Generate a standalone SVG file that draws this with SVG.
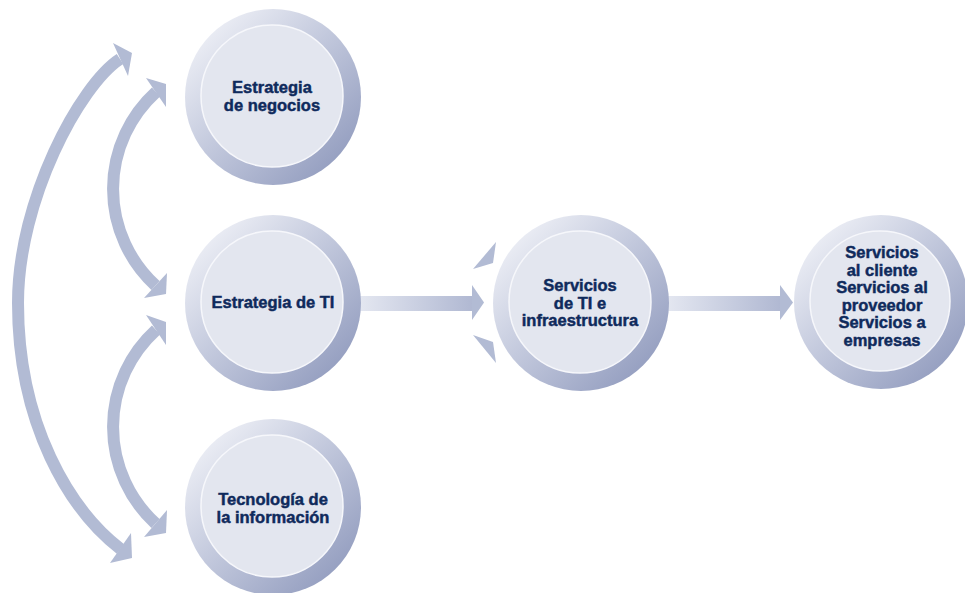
<svg xmlns="http://www.w3.org/2000/svg" width="965" height="593" viewBox="0 0 965 593">
  <style>
    .band { fill: none; stroke: #b2bbd4; stroke-width: 12; }
    .head { fill: #b2bbd4; }
    .ring { fill: url(#ringGrad); }
    .disc { fill: #e3e6ef; stroke: #f6f7fb; stroke-width: 1.5; }
    .lbl { font-family: "Liberation Sans", Arial, sans-serif; font-weight: bold; font-size: 16.5px; fill: #0f2a5c; stroke: #0f2a5c; stroke-width: 0.45; text-anchor: middle; }
  </style>
  <defs>
    <linearGradient id="ringGrad" x1="0.12" y1="0.12" x2="0.88" y2="0.9">
      <stop offset="0" stop-color="#eceef5"/>
      <stop offset="0.45" stop-color="#c3c9dd"/>
      <stop offset="1" stop-color="#939dbf"/>
    </linearGradient>
    <linearGradient id="shaftGrad" x1="0" y1="0" x2="1" y2="0">
      <stop offset="0" stop-color="#e6e9f2"/>
      <stop offset="1" stop-color="#b0b8d2"/>
    </linearGradient>
  </defs>

  <g id="connectors">
    <!-- outer arc -->
    <path class="band" d="M 120 59 C 80 85, 18 200, 18 303 C 18 425, 70 510, 120.5 549"/>
    <polygon class="head" points="113,43 132,53 128,76"/>
    <polygon class="head" points="110,563 132,558 131,533"/>
    <!-- inner upper arc -->
    <path class="band" d="M 156 92 A 131 131 0 0 0 155.5 285.5"/>
    <polygon class="head" points="146,78 166,84 166,107"/>
    <polygon class="head" points="144,298 166,294 167,273"/>
    <!-- inner lower arc -->
    <path class="band" d="M 156 330 A 131 131 0 0 0 155.5 523.5"/>
    <polygon class="head" points="146,315 166,322 166,345"/>
    <polygon class="head" points="144,537 166,533 167,510"/>
    <!-- horizontal arrow 1 -->
    <rect x="355" y="296" width="118" height="15" fill="url(#shaftGrad)"/>
    <polygon class="head" points="472,285 484,302.5 472,320"/>
    <polygon class="head" points="473,269 496,242 493,263"/>
    <polygon class="head" points="473,335 493,342 496,363"/>
    <!-- horizontal arrow 2 -->
    <rect x="662" y="296" width="119" height="15" fill="url(#shaftGrad)"/>
    <polygon class="head" points="780,285 793,302.5 780,320"/>
  </g>

  <g id="estrategia-negocios">
    <circle class="ring" cx="273" cy="97" r="88"/>
    <circle class="disc" cx="272" cy="96" r="71"/>
    <text class="lbl" x="272" y="93">Estrategia</text>
    <text class="lbl" x="272" y="110.5">de negocios</text>
  </g>

  <g id="estrategia-ti">
    <circle class="ring" cx="273" cy="303" r="88"/>
    <circle class="disc" cx="272" cy="302" r="71"/>
    <text class="lbl" x="273" y="308">Estrategia de TI</text>
  </g>

  <g id="tecnologia-informacion">
    <circle class="ring" cx="273" cy="507" r="88"/>
    <circle class="disc" cx="272" cy="506" r="71"/>
    <text class="lbl" x="273" y="505">Tecnología de</text>
    <text class="lbl" x="273" y="522.5">la información</text>
  </g>

  <g id="servicios-ti">
    <circle class="ring" cx="581" cy="303" r="88"/>
    <circle class="disc" cx="580" cy="302" r="71"/>
    <text class="lbl" x="580" y="291">Servicios</text>
    <text class="lbl" x="580" y="308.5">de TI e</text>
    <text class="lbl" x="580" y="326">infraestructura</text>
  </g>

  <g id="servicios-clientes">
    <circle class="ring" cx="881" cy="302" r="87"/>
    <circle class="disc" cx="880" cy="301" r="70"/>
    <text class="lbl" x="882" y="258">Servicios</text>
    <text class="lbl" x="882" y="275.5">al cliente</text>
    <text class="lbl" x="882" y="293">Servicios al</text>
    <text class="lbl" x="882" y="310.5">proveedor</text>
    <text class="lbl" x="882" y="328">Servicios a</text>
    <text class="lbl" x="882" y="345.5">empresas</text>
  </g>
</svg>
